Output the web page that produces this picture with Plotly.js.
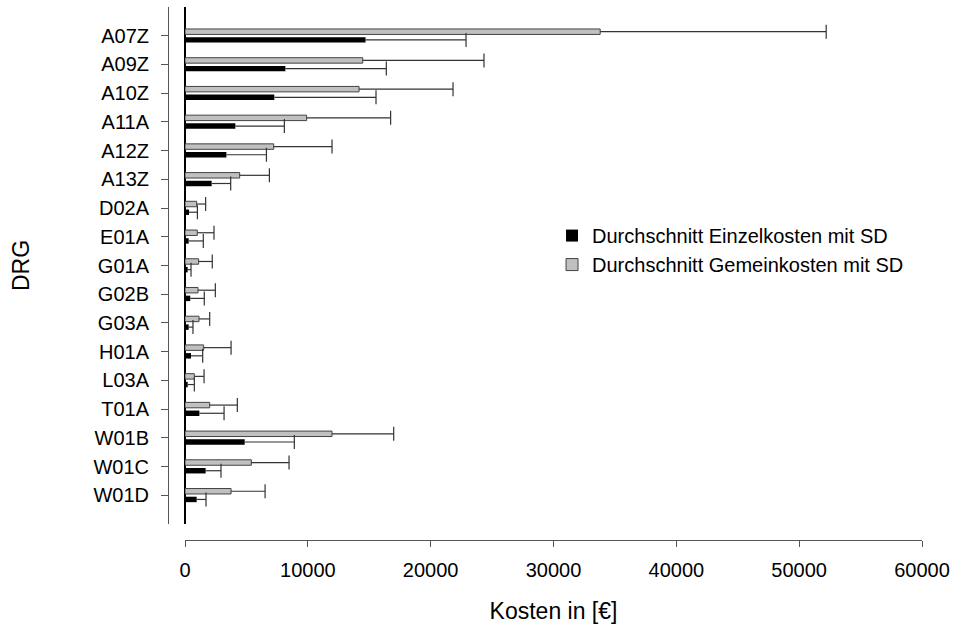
<!DOCTYPE html>
<html>
<head>
<meta charset="utf-8">
<script src="https://cdn.plot.ly/plotly-3.0.1.min.js"></script>
<style>html,body{margin:0;padding:0;background:#fff;}#chart{width:954px;height:629px;}</style>
</head>
<body>
<div id="chart"></div>
<script>
var categories = ['A07Z','A09Z','A10Z','A11A','A12Z','A13Z','D02A','E01A','G01A','G02B','G03A','H01A','L03A','T01A','W01B','W01C','W01D'];
var einzelMean = [14700, 8170, 7270, 4100, 3370, 2170, 330, 300, 220, 430, 300, 490, 220, 1170, 4860, 1680, 950];
var einzelSD   = [8180, 8220, 8280, 3990, 3260, 1550, 680, 1190, 270, 1140, 350, 950, 540, 2010, 4040, 1250, 760];
var gemeinMean = [33800, 14470, 14170, 9900, 7220, 4450, 950, 1000, 1110, 1060, 1140, 1520, 760, 2010, 11970, 5400, 3750];
var gemeinSD   = [18400, 9870, 7650, 6840, 4750, 2420, 730, 1360, 1110, 1410, 870, 2230, 790, 2250, 5020, 3070, 2770];
var seriesNames = ['Durchschnitt Einzelkosten mit SD', 'Durchschnitt Gemeinkosten mit SD'];

var FONT = 'Liberation Sans, Arial, sans-serif';
var barW = 0.19, grayOff = -0.235, blackOff = 0.05;

var gemeinTrace = {
  type: 'bar', orientation: 'h', name: seriesNames[1],
  y: categories, x: gemeinMean, width: barW, offset: grayOff,
  marker: {color: '#c0c0c0', line: {color: '#444', width: 1}},
  error_x: {type: 'data', array: gemeinSD, symmetric: false, width: 0, thickness: 1.2, color: '#333'}
};
var einzelTrace = {
  type: 'bar', orientation: 'h', name: seriesNames[0],
  y: categories, x: einzelMean, width: barW, offset: blackOff,
  marker: {color: '#000000', line: {color: '#000', width: 0}},
  error_x: {type: 'data', array: einzelSD, symmetric: false, width: 0, thickness: 1.2, color: '#333'}
};
// invisible helper bars spanning mean..mean+SD, only to draw the end cap of each SD whisker
var gemeinCap = {
  type: 'bar', orientation: 'h', showlegend: false, hoverinfo: 'skip',
  y: categories, base: gemeinMean, x: gemeinSD, width: barW, offset: grayOff,
  marker: {color: 'rgba(0,0,0,0)', line: {width: 0}},
  error_x: {type: 'constant', value: 0, width: 7, thickness: 1.2, color: '#333'}
};
var einzelCap = {
  type: 'bar', orientation: 'h', showlegend: false, hoverinfo: 'skip',
  y: categories, base: einzelMean, x: einzelSD, width: barW, offset: blackOff,
  marker: {color: 'rgba(0,0,0,0)', line: {width: 0}},
  error_x: {type: 'constant', value: 0, width: 7, thickness: 1.2, color: '#333'}
};

var layout = {
  width: 954, height: 629,
  margin: {l: 160, r: 20, t: 5, b: 80},
  paper_bgcolor: '#fff', plot_bgcolor: '#fff',
  font: {family: FONT, size: 20, color: '#000'},
  barmode: 'overlay',
  showlegend: true,
  legend: {x: 0.5065, xanchor: 'left', y: 0.612, yanchor: 'top', traceorder: 'reversed',
           font: {family: FONT, size: 20, color: '#000'}, bgcolor: 'rgba(0,0,0,0)'},
  xaxis: {
    domain: [0.0323, 0.9845], anchor: 'free', position: 0.01654,
    range: [0, 60000], autorange: false, dtick: 10000, tick0: 0, tickformat: 'd',
    showline: true, linecolor: '#555', linewidth: 1,
    ticks: 'outside', ticklen: 6, tickcolor: '#555', tickwidth: 1,
    ticklabelstandoff: 6,
    showgrid: false, zeroline: true, zerolinecolor: '#000', zerolinewidth: 1.5,
    tickfont: {family: FONT, size: 20, color: '#000'},
    title: {text: 'Kosten in [€]', font: {family: FONT, size: 23, color: '#000'}, standoff: 22}
  },
  yaxis: {
    domain: [0.04596, 0.99632], anchor: 'free', position: 0.01034,
    type: 'category', categoryorder: 'array', categoryarray: categories,
    range: [17, -1], autorange: false,
    showline: true, linecolor: '#555', linewidth: 1,
    ticks: 'outside', ticklen: 7, tickcolor: '#555', tickwidth: 1,
    ticklabelstandoff: 8,
    showgrid: false, zeroline: false,
    tickfont: {family: FONT, size: 20, color: '#000'},
    title: {text: 'DRG', font: {family: FONT, size: 23, color: '#000'}, standoff: 56}
  }
};

Plotly.newPlot('chart', [gemeinTrace, einzelTrace, gemeinCap, einzelCap], layout, {displayModeBar: false, staticPlot: true});
</script>
</body>
</html>
